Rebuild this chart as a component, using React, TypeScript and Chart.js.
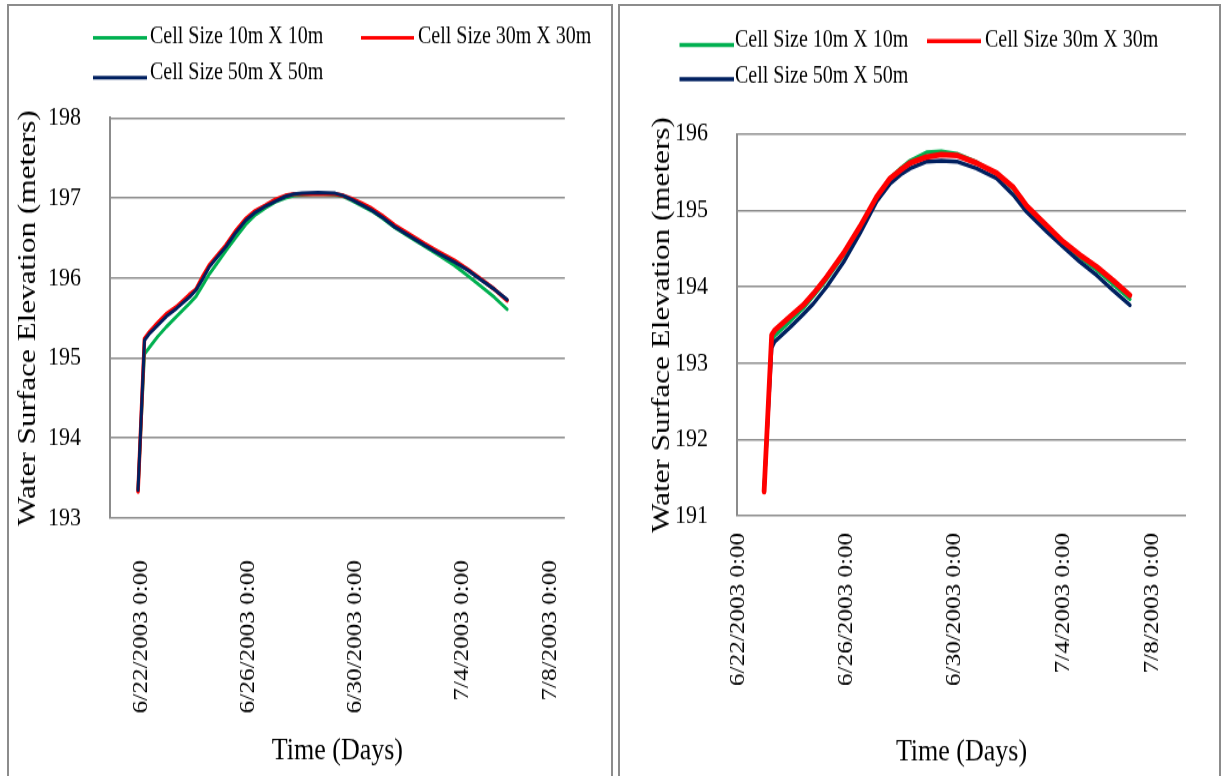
import React, { useEffect, useRef } from 'react';
import { Chart, registerables } from 'chart.js';

Chart.register(...registerables);

// ---------------- data ----------------
const xTickDays = [0, 4, 8, 12, 15.3];
const xTickLabels = ['6/22/2003 0:00', '6/26/2003 0:00', '6/30/2003 0:00', '7/4/2003 0:00', '7/8/2003 0:00'];
const seriesNames = ['Cell Size 10m X 10m', 'Cell Size 30m X 30m', 'Cell Size 50m X 50m'];
const seriesColors = ['#00B050', '#FF0000', '#002060'];

// left chart (days from 6/22/2003 0:00)
const leftDays = [-0.14, 0.1, 0.3, 0.6, 0.92, 1.3, 1.78, 2.03, 2.3, 2.53, 2.85, 3.15, 3.5, 3.89, 4.25, 4.64, 5.0, 5.38, 5.7, 6.0, 6.6, 7.24, 7.55, 7.86, 8.2, 8.6, 9.0, 9.47, 10.0, 10.58, 11.1, 11.7, 12.2, 12.69, 13.2, 13.68];
const leftGreen = [193.35, 195.05, 195.14, 195.27, 195.39, 195.52, 195.68, 195.77, 195.92, 196.05, 196.2, 196.34, 196.5, 196.67, 196.79, 196.88, 196.95, 197.0, 197.03, 197.04, 197.05, 197.04, 197.02, 196.97, 196.91, 196.84, 196.75, 196.63, 196.52, 196.4, 196.29, 196.16, 196.03, 195.9, 195.76, 195.61];
const leftRed = [193.33, 195.24, 195.33, 195.44, 195.55, 195.64, 195.79, 195.86, 196.03, 196.16, 196.29, 196.41, 196.58, 196.74, 196.84, 196.91, 196.98, 197.03, 197.05, 197.05, 197.05, 197.05, 197.03, 196.99, 196.94, 196.87, 196.78, 196.66, 196.55, 196.43, 196.33, 196.22, 196.11, 195.99, 195.86, 195.72];
const leftBlue = [193.35, 195.22, 195.31, 195.41, 195.52, 195.62, 195.76, 195.85, 196.0, 196.14, 196.27, 196.39, 196.56, 196.72, 196.82, 196.9, 196.96, 197.02, 197.05, 197.06, 197.07, 197.06, 197.03, 196.98, 196.92, 196.85, 196.76, 196.64, 196.53, 196.41, 196.31, 196.2, 196.1, 195.98, 195.86, 195.73];

// right chart
const rightDays = [0.96, 1.24, 1.35, 1.92, 2.4, 2.78, 3.27, 3.89, 4.5, 5.12, 5.61, 6.0, 6.35, 6.96, 7.5, 8.07, 8.8, 9.54, 10.16, 10.65, 11.39, 12.0, 12.6, 13.24, 13.85, 14.46];
const rightGreen = [191.33, 193.3, 193.36, 193.55, 193.72, 193.88, 194.1, 194.41, 194.76, 195.16, 195.42, 195.55, 195.65, 195.76, 195.77, 195.74, 195.63, 195.48, 195.28, 195.03, 194.77, 194.56, 194.39, 194.22, 194.03, 193.84];
const rightRed = [191.32, 193.37, 193.43, 193.61, 193.76, 193.91, 194.13, 194.44, 194.79, 195.18, 195.42, 195.53, 195.62, 195.7, 195.73, 195.72, 195.62, 195.49, 195.3, 195.06, 194.8, 194.59, 194.42, 194.26, 194.08, 193.89];
const rightBlue = [191.35, 193.2, 193.28, 193.47, 193.64, 193.78, 194.0, 194.32, 194.7, 195.12, 195.35, 195.47, 195.55, 195.64, 195.65, 195.64, 195.55, 195.42, 195.2, 194.98, 194.72, 194.52, 194.33, 194.15, 193.95, 193.76];

// ---------------- layout ----------------
const FONT = '"Liberation Serif", "Times New Roman", serif';
const H = 647; // internal canvas height, displayed stretched to 776
const DISPLAY_H = 776;
const GRID = '#8c8c8c';

type Cfg = {
  left: number; width: number;
  area: { left: number; right: number; top: number; bottom: number };
  yMin: number; yMax: number; xMin: number; xMax: number;
  yTitlePad: number; yTickPad: number; xTickPad: number; xTitlePad: number;
  days: number[]; green: number[]; red: number[]; blue: number[];
  order: ('green' | 'red' | 'blue')[];
  widths: { green: number; red: number; blue: number };
  legend: { x1: number; x2: number; ly: number; tx: number; ty: number; lw: number; idx: number }[];
};

const leftCfg: Cfg = {
  left: 8, width: 604,
  area: { left: 102, right: 560, top: 98.4, bottom: 431.9 },
  yMin: 193, yMax: 198, xMin: -1.19, xMax: 15.84,
  yTitlePad: 4.6, yTickPad: 29, xTickPad: 35, xTitlePad: 5,
  days: leftDays, green: leftGreen, red: leftRed, blue: leftBlue,
  order: ['blue', 'red', 'green'],
  widths: { green: 3, red: 3.6, blue: 3 },
  legend: [
    { x1: 85, x2: 139, ly: 31.4, tx: 142, ty: 31.2, lw: 3, idx: 0 },
    { x1: 353, x2: 406, ly: 31.4, tx: 410, ty: 31.2, lw: 3, idx: 1 },
    { x1: 85, x2: 139, ly: 64.8, tx: 142, ty: 61.2, lw: 3, idx: 2 },
  ],
};

const rightCfg: Cfg = {
  left: 619, width: 602,
  area: { left: 118, right: 567, top: 111.7, bottom: 430.2 },
  yMin: 191, yMax: 196, xMin: -0.04, xMax: 16.53,
  yTitlePad: 27.4, yTickPad: 29, xTickPad: 14, xTitlePad: 4,
  days: rightDays, green: rightGreen, red: rightRed, blue: rightBlue,
  order: ['red', 'blue', 'green'],
  widths: { green: 3.5, red: 4.8, blue: 3.5 },
  legend: [
    { x1: 60.5, x2: 115, ly: 37.5, tx: 116, ty: 33.4, lw: 3.5, idx: 0 },
    { x1: 308, x2: 362, ly: 34.2, tx: 366, ty: 34.2, lw: 3.5, idx: 1 },
    { x1: 60.5, x2: 115, ly: 66, tx: 116, ty: 63.8, lw: 3.5, idx: 2 },
  ],
};

function ChartPanel({ cfg }: { cfg: Cfg }) {
  const ref = useRef<HTMLCanvasElement | null>(null);
  useEffect(() => {
    if (!ref.current) return;
    const keyIdx: Record<string, number> = { green: 0, red: 1, blue: 2 };
    const datasets = cfg.order.map((k) => {
      const vals = cfg[k];
      return {
        label: seriesNames[keyIdx[k]],
        data: cfg.days.map((d, i) => ({ x: d, y: vals[i] })),
        borderColor: seriesColors[keyIdx[k]],
        backgroundColor: seriesColors[keyIdx[k]],
        borderWidth: cfg.widths[k],
        pointRadius: 0,
        tension: 0,
        fill: false,
        borderJoinStyle: 'round' as const,
        borderCapStyle: 'round' as const,
      };
    });
    const legendPlugin = {
      id: 'lineLegend',
      afterDraw(chart: any) {
        const ctx = chart.ctx;
        ctx.save();
        cfg.legend.forEach((it) => {
          ctx.strokeStyle = seriesColors[it.idx];
          ctx.lineWidth = it.lw;
          ctx.lineCap = 'butt';
          ctx.beginPath();
          ctx.moveTo(it.x1, it.ly);
          ctx.lineTo(it.x2, it.ly);
          ctx.stroke();
          ctx.fillStyle = '#000';
          ctx.font = `20px ${FONT}`;
          ctx.textBaseline = 'middle';
          ctx.textAlign = 'left';
          ctx.fillText(seriesNames[it.idx], it.tx, it.ty);
        });
        ctx.restore();
      },
    };
    const chart = new Chart(ref.current, {
      type: 'line',
      data: { datasets },
      plugins: [legendPlugin],
      options: {
        animation: false,
        responsive: false,
        devicePixelRatio: 1,
        layout: { padding: { top: cfg.area.top, right: cfg.width - cfg.area.right, left: 0, bottom: 0 } },
        plugins: { legend: { display: false }, tooltip: { enabled: false } },
        scales: {
          x: {
            type: 'linear',
            min: cfg.xMin,
            max: cfg.xMax,
            grid: { display: false, drawTicks: false },
            border: { display: false },
            afterBuildTicks: (s: any) => { s.ticks = xTickDays.map((v) => ({ value: v })); },
            afterFit: (s: any) => { s.height = H - cfg.area.bottom; },
            ticks: {
              autoSkip: false,
              minRotation: 90,
              maxRotation: 90,
              padding: cfg.xTickPad,
              color: '#000',
              font: { family: FONT, size: 21 },
              callback: (_v: any, i: number) => xTickLabels[i],
            },
            title: {
              display: true,
              text: 'Time (Days)',
              color: '#000',
              font: { family: FONT, size: 26 },
              padding: { top: 0, bottom: cfg.xTitlePad },
            },
          },
          y: {
            type: 'linear',
            min: cfg.yMin,
            max: cfg.yMax,
            grid: { color: GRID, lineWidth: 1.5, drawTicks: false },
            border: { display: true, color: GRID, width: 2 },
            afterFit: (s: any) => { s.width = cfg.area.left; },
            ticks: {
              stepSize: 1,
              padding: cfg.yTickPad,
              color: '#000',
              font: { family: FONT, size: 22 },
            },
            title: {
              display: true,
              text: 'Water Surface Elevation (meters)',
              color: '#000',
              font: { family: FONT, size: 26 },
              padding: { top: cfg.yTitlePad, bottom: 0 },
            },
          },
        },
      },
    } as any);
    return () => chart.destroy();
  }, [cfg]);
  return (
    <canvas
      ref={ref}
      width={cfg.width}
      height={H}
      style={{ position: 'absolute', left: cfg.left, top: 0, width: cfg.width + 'px', height: DISPLAY_H + 'px' }}
    />
  );
}

export default function App() {
  return (
    <div style={{ position: 'fixed', left: 0, top: 0, width: 1222, height: 776, overflow: 'hidden', background: '#fff' }}>
      <div style={{ position: 'absolute', left: 7, top: 4, width: 606, height: 800, border: '2px solid #8c8c8c', boxSizing: 'border-box' }} />
      <div style={{ position: 'absolute', left: 618, top: 4, width: 603, height: 800, border: '2px solid #8c8c8c', boxSizing: 'border-box' }} />
      <ChartPanel cfg={leftCfg} />
      <ChartPanel cfg={rightCfg} />
    </div>
  );
}
